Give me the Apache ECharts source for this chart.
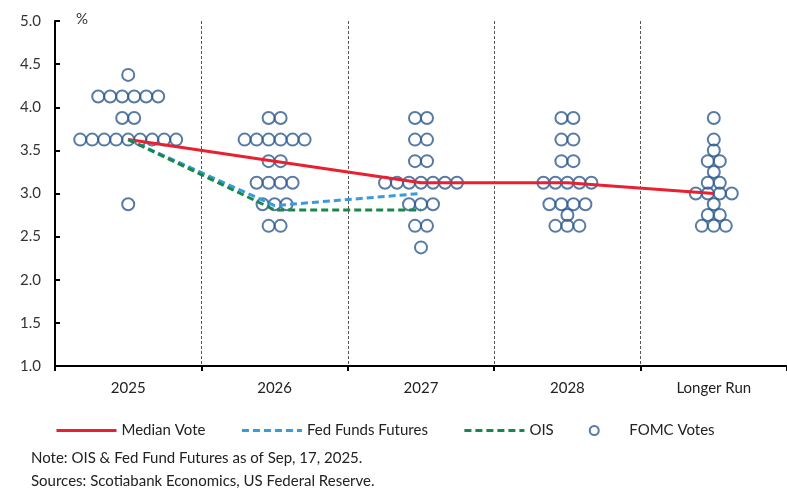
<!DOCTYPE html>
<html>
<head>
<meta charset="utf-8">
<script src="https://cdn.jsdelivr.net/npm/echarts@6/dist/echarts.min.js"></script>
<style>
html,body{margin:0;padding:0;background:#fff;}
#chart{width:787px;height:491px;}
</style>
</head>
<body>
<div id="chart"></div>
<script>
const categories = ['2025', '2026', '2027', '2028', 'Longer Run'];
const yTicks = [1.0, 1.5, 2.0, 2.5, 3.0, 3.5, 4.0, 4.5, 5.0];

const medianVote = [3.625, 3.375, 3.125, 3.125, 3.0];
const fedFundsFutures = [3.625, 2.86, 3.0, null, null];
const ois = [3.625, 2.81, 2.81, null, null];

// FOMC votes: [rate, number of votes] per category
const votes2025 = [[4.375, 1], [4.125, 6], [3.875, 2], [3.625, 9], [2.875, 1]];
const votes2026 = [[3.875, 2], [3.625, 6], [3.375, 2], [3.125, 4], [2.875, 3], [2.625, 2]];
const votes2027 = [[3.875, 2], [3.625, 2], [3.375, 2], [3.125, 7], [2.875, 3], [2.625, 2], [2.375, 1]];
const votes2028 = [[3.875, 2], [3.625, 2], [3.375, 2], [3.125, 5], [2.875, 4], [2.75, 1], [2.625, 3]];
const votesLongRun = [[3.875, 1], [3.625, 1], [3.5, 1], [3.375, 2], [3.25, 1], [3.125, 2], [3.0, 4], [2.875, 1], [2.75, 2], [2.625, 3]];

const allVotes = [votes2025, votes2026, votes2027, votes2028, votesLongRun];
const DOT_STEP = 12;
const dotData = [];
allVotes.forEach((rows, ci) => {
  rows.forEach(([rate, n]) => {
    for (let i = 0; i < n; i++) {
      dotData.push({ value: [categories[ci], rate], symbolOffset: [(i - (n - 1) / 2) * DOT_STEP, 0] });
    }
  });
});

const FONT = 'Lato, "Open Sans", sans-serif';
const chart = echarts.init(document.getElementById('chart'), null, { renderer: 'canvas' });
chart.setOption({
  animation: false,
  backgroundColor: '#ffffff',
  textStyle: { fontFamily: FONT },
  grid: { left: 55, right: -6, top: 21, bottom: 125, containLabel: false },
  xAxis: {
    type: 'category',
    data: categories,
    boundaryGap: true,
    axisLine: { show: true, lineStyle: { color: '#000', width: 2 } },
    axisTick: { show: true, inside: false, length: 5, lineStyle: { color: '#000', width: 2 } },
    axisLabel: { color: '#222', fontSize: 15, margin: 15, fontFamily: FONT },
    splitLine: { show: true, lineStyle: { color: '#555', width: 1, type: [3, 2] } }
  },
  yAxis: {
    type: 'value',
    min: yTicks[0],
    max: yTicks[yTicks.length - 1],
    interval: 0.5,
    axisLine: { show: true, lineStyle: { color: '#000', width: 2 } },
    axisTick: { show: true, inside: true, length: 5, lineStyle: { color: '#000', width: 2 } },
    axisLabel: { color: '#333', fontSize: 15, margin: 14, fontFamily: FONT, formatter: v => v.toFixed(1) },
    splitLine: { show: false }
  },
  legend: {
    left: 50,
    top: 418,
    itemWidth: 60,
    itemHeight: 9,
    itemGap: 35,
    textStyle: { color: '#222', fontSize: 15, fontFamily: FONT },
    data: [
      { name: 'Median Vote', itemStyle: { opacity: 0 }, lineStyle: { width: 3 } },
      { name: 'Fed Funds Futures', itemStyle: { opacity: 0 }, lineStyle: { width: 3, type: [7, 4] } },
      { name: 'OIS', itemStyle: { opacity: 0 }, lineStyle: { width: 3, type: [7, 4] } },
      { name: 'FOMC Votes', icon: 'circle' }
    ]
  },
  graphic: [
    { type: 'text', left: 76, top: 12, style: { text: '%', fill: '#333', font: '15px ' + FONT } },
    { type: 'text', left: 31, top: 451, style: { text: 'Note: OIS & Fed Fund Futures as of Sep, 17, 2025.', fill: '#222', font: '15px ' + FONT } },
    { type: 'text', left: 31, top: 474, style: { text: 'Sources: Scotiabank Economics, US Federal Reserve.', fill: '#222', font: '15px ' + FONT } }
  ],
  series: [
    {
      name: 'FOMC Votes',
      type: 'scatter',
      data: dotData,
      symbol: 'circle',
      symbolSize: 12,
      itemStyle: { color: 'rgba(255,255,255,0)', borderColor: '#2d5a8e', borderWidth: 2 },
      z: 2
    },
    {
      name: 'Median Vote',
      type: 'line',
      data: medianVote,
      symbol: 'none',
      lineStyle: { color: '#e8202f', width: 3 },
      itemStyle: { color: '#e8202f' },
      z: 3
    },
    {
      name: 'Fed Funds Futures',
      type: 'line',
      data: fedFundsFutures,
      symbol: 'none',
      lineStyle: { color: '#3b9ad9', width: 3, type: [7, 4] },
      itemStyle: { color: '#3b9ad9' },
      z: 3
    },
    {
      name: 'OIS',
      type: 'line',
      data: ois,
      symbol: 'none',
      lineStyle: { color: '#17874a', width: 3, type: [7, 4] },
      itemStyle: { color: '#17874a' },
      z: 3
    }
  ]
});
</script>
</body>
</html>
